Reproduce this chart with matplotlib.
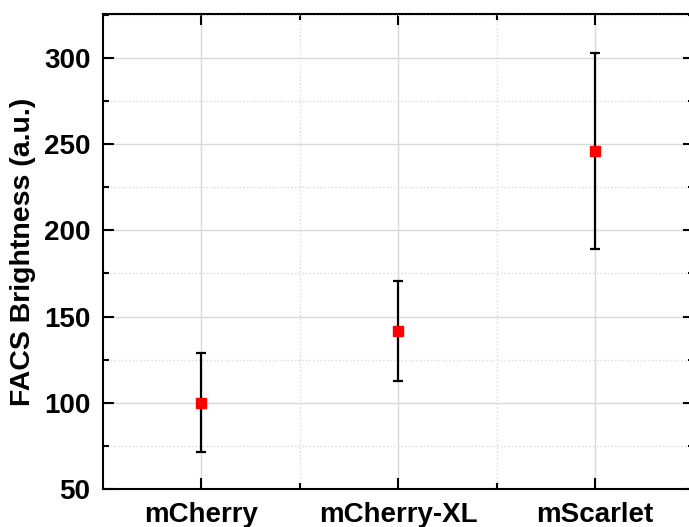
import matplotlib.pyplot as plt
from matplotlib.ticker import MultipleLocator, FixedLocator

labels = ['mCherry', 'mCherry-XL', 'mScarlet']
brightness = [100, 141.5, 246]
err_lo = [28.5, 29, 57]
err_hi = [29, 29, 57]

plt.rcParams['font.family'] = 'Liberation Sans'
plt.rcParams['font.weight'] = 'bold'

fig = plt.figure(figsize=(6.89, 5.27), dpi=100)
ax = fig.add_axes([103 / 689, 1 - 489 / 527, 590.5 / 689, 475 / 527])

x = list(range(len(labels)))
ax.errorbar(x, brightness, yerr=[err_lo, err_hi], fmt='s', color='red',
            markersize=7, ecolor='black', elinewidth=1.6, capsize=3.8,
            capthick=1.6, zorder=3)

ax.set_xlim(-0.5, 2.5)
ax.set_ylim(50, 325.5)
ax.set_xticks(x)
ax.set_xticklabels(labels, fontsize=20, fontweight='bold')
ax.xaxis.set_minor_locator(FixedLocator([0.5, 1.5]))
ax.yaxis.set_major_locator(MultipleLocator(50))
ax.yaxis.set_minor_locator(MultipleLocator(25))
ax.set_ylabel('FACS Brightness (a.u.)', fontsize=20.5, fontweight='bold',
              labelpad=6)
for t in ax.get_yticklabels():
    t.set_fontsize(20)
    t.set_fontweight('bold')

ax.grid(which='major', color='#d9d9d9', linewidth=1.0, linestyle='-')
ax.grid(which='minor', color='#d9d9d9', linewidth=1.0, linestyle=':')
ax.set_axisbelow(True)

ax.tick_params(which='both', direction='in', top=True, right=True, width=1.5)
ax.tick_params(which='major', length=8)
ax.tick_params(axis='y', which='major', pad=9)
ax.tick_params(axis='x', which='major', pad=9)
ax.tick_params(which='minor', length=4)
for s in ax.spines.values():
    s.set_linewidth(1.5)

fig.savefig('out.png', dpi=100)
